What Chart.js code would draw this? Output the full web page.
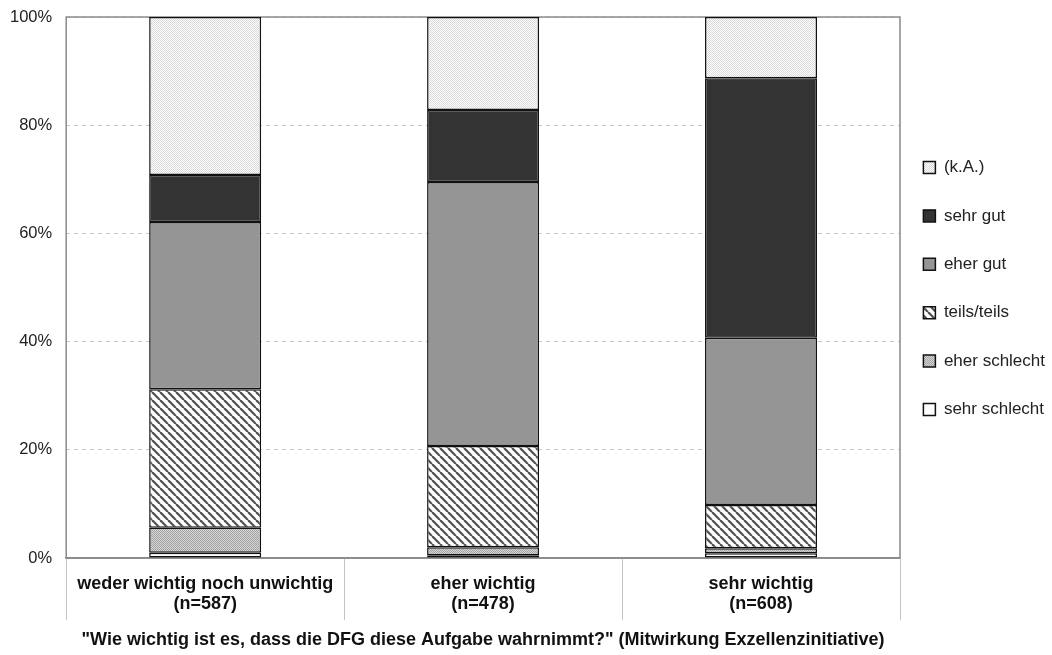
<!DOCTYPE html>
<html>
<head>
<meta charset="utf-8">
<script src="https://cdn.jsdelivr.net/npm/chart.js@4.4.1/dist/chart.umd.min.js"></script>
<style>
  body { margin: 0; background: #fff; }
  #wrap { width: 1052px; height: 655px; }
</style>
</head>
<body>
<div id="wrap"><canvas id="chart" width="1052" height="655"></canvas></div>
<script>
// categories and answer shares (percent)
const categories = [
    ['weder wichtig noch unwichtig', '(n=587)'],
    ['eher wichtig', '(n=478)'],
    ['sehr wichtig', '(n=608)']
];
const seriesNames = ['sehr schlecht', 'eher schlecht', 'teils/teils', 'eher gut', 'sehr gut', '(k.A.)'];
const sehrSchlecht = [1.0, 0.5, 0.9];
const eherSchlecht = [4.6, 1.5, 0.9];
const teilsTeils   = [25.6, 18.7, 8.0];
const eherGut      = [30.9, 48.8, 30.9];
const sehrGut      = [8.7, 13.3, 48.0];
const keineAngabe  = [29.2, 17.2, 11.3];
const yTicks = [0, 20, 40, 60, 80, 100];
const xTitle = '"Wie wichtig ist es, dass die DFG diese Aufgabe wahrnimmt?" (Mitwirkung Exzellenzinitiative)';

const FONT = 'Liberation Sans, Arial, sans-serif';

function makePattern(size, draw) {
    let c = document.createElement('canvas');
    c.width = size; c.height = size;
    let g = c.getContext('2d');
    draw(g, size);
    return g.createPattern(c, 'repeat');
}

const ctx = document.getElementById('chart').getContext('2d');

let dots = (bg, fg) => makePattern(2, (g) => {
    g.fillStyle = bg; g.fillRect(0, 0, 2, 2);
    g.fillStyle = fg; g.fillRect(0, 0, 1, 1); g.fillRect(1, 1, 1, 1);
});
let stripes = makePattern(8, (g, s) => {
    g.fillStyle = '#fff'; g.fillRect(0, 0, s, s);
    g.strokeStyle = '#505050'; g.lineWidth = 2.2;
    for (let o = -s; o <= s; o += s) {
        g.beginPath(); g.moveTo(o, 0); g.lineTo(o + s, s); g.stroke();
    }
});

let fills = [
    '#ffffff',
    dots('#d4d4d4', '#a4a4a4'),
    stripes,
    '#959595',
    '#333333',
    dots('#ffffff', '#d8d8d8')
];
let seriesData = [sehrSchlecht, eherSchlecht, teilsTeils, eherGut, sehrGut, keineAngabe];

// grey frame round the plot and the category dividers below it
const plotFrame = {
    id: 'plotFrame',
    afterLayout(chart) {
        // pull the legend a bit closer to the plot and up, like the original
        let lg = chart.legend;
        let w = lg.right - lg.left, h = lg.bottom - lg.top;
        lg.left = chart.chartArea.right - 8;
        lg.right = lg.left + w;
        lg.top = lg.top - 37;
        lg.bottom = lg.top + h;
    },
    beforeDatasetsDraw(chart) {
        let a = chart.chartArea, c = chart.ctx;
        let n = chart.data.labels.length;
        c.save();
        c.strokeStyle = '#c4c4c4'; c.lineWidth = 1;
        for (let i = 0; i <= n; i++) {
            let x = Math.round(a.left + i * (a.right - a.left) / n) + 0.5;
            c.beginPath(); c.moveTo(x, a.bottom); c.lineTo(x, a.bottom + 62); c.stroke();
        }
        c.strokeStyle = '#8a8a8a'; c.lineWidth = 1.5;
        c.strokeRect(a.left, a.top, a.right - a.left, a.bottom - a.top);
        c.restore();
    }
};

new Chart(ctx, {
    type: 'bar',
    data: {
        labels: categories,
        datasets: seriesNames.map((name, i) => ({
            label: name,
            data: seriesData[i],
            backgroundColor: fills[i],
            borderColor: '#111',
            borderWidth: 1.5,
            borderSkipped: false,
            categoryPercentage: 1,
            barPercentage: 0.403
        }))
    },
    options: {
        responsive: false,
        animation: false,
        layout: { padding: { left: -4, right: -11, top: 0, bottom: 4 } },
        plugins: {
            tooltip: { enabled: false },
            legend: {
                position: 'right',
                reverse: true,
                labels: {
                    boxWidth: 12, boxHeight: 12, padding: 31.4,
                    color: '#222',
                    font: { family: FONT, size: 17 }
                }
            }
        },
        scales: {
            x: {
                stacked: true,
                offset: true,
                grid: { display: false },
                border: { color: '#888', width: 1.5 },
                ticks: {
                    color: '#111', padding: 8,
                    font: { family: FONT, size: 18, weight: 'bold', lineHeight: 1.12 }
                },
                title: {
                    display: true, text: xTitle, color: '#111',
                    padding: { top: 7, bottom: 0 },
                    font: { family: FONT, size: 18, weight: 'bold' }
                }
            },
            y: {
                stacked: true,
                min: 0, max: 100,
                afterBuildTicks: (ax) => { ax.ticks = yTicks.map(v => ({ value: v })); },
                afterFit: (ax) => { ax.paddingTop = 17; ax.paddingBottom = 0; },
                grid: { color: '#c8c8c8', tickLength: 0 },
                border: { display: false, dash: [4, 4] },
                ticks: {
                    color: '#222', padding: 14,
                    font: { family: FONT, size: 16.5 },
                    callback: (v) => v + '%'
                }
            }
        }
    },
    plugins: [plotFrame]
});
</script>
</body>
</html>
